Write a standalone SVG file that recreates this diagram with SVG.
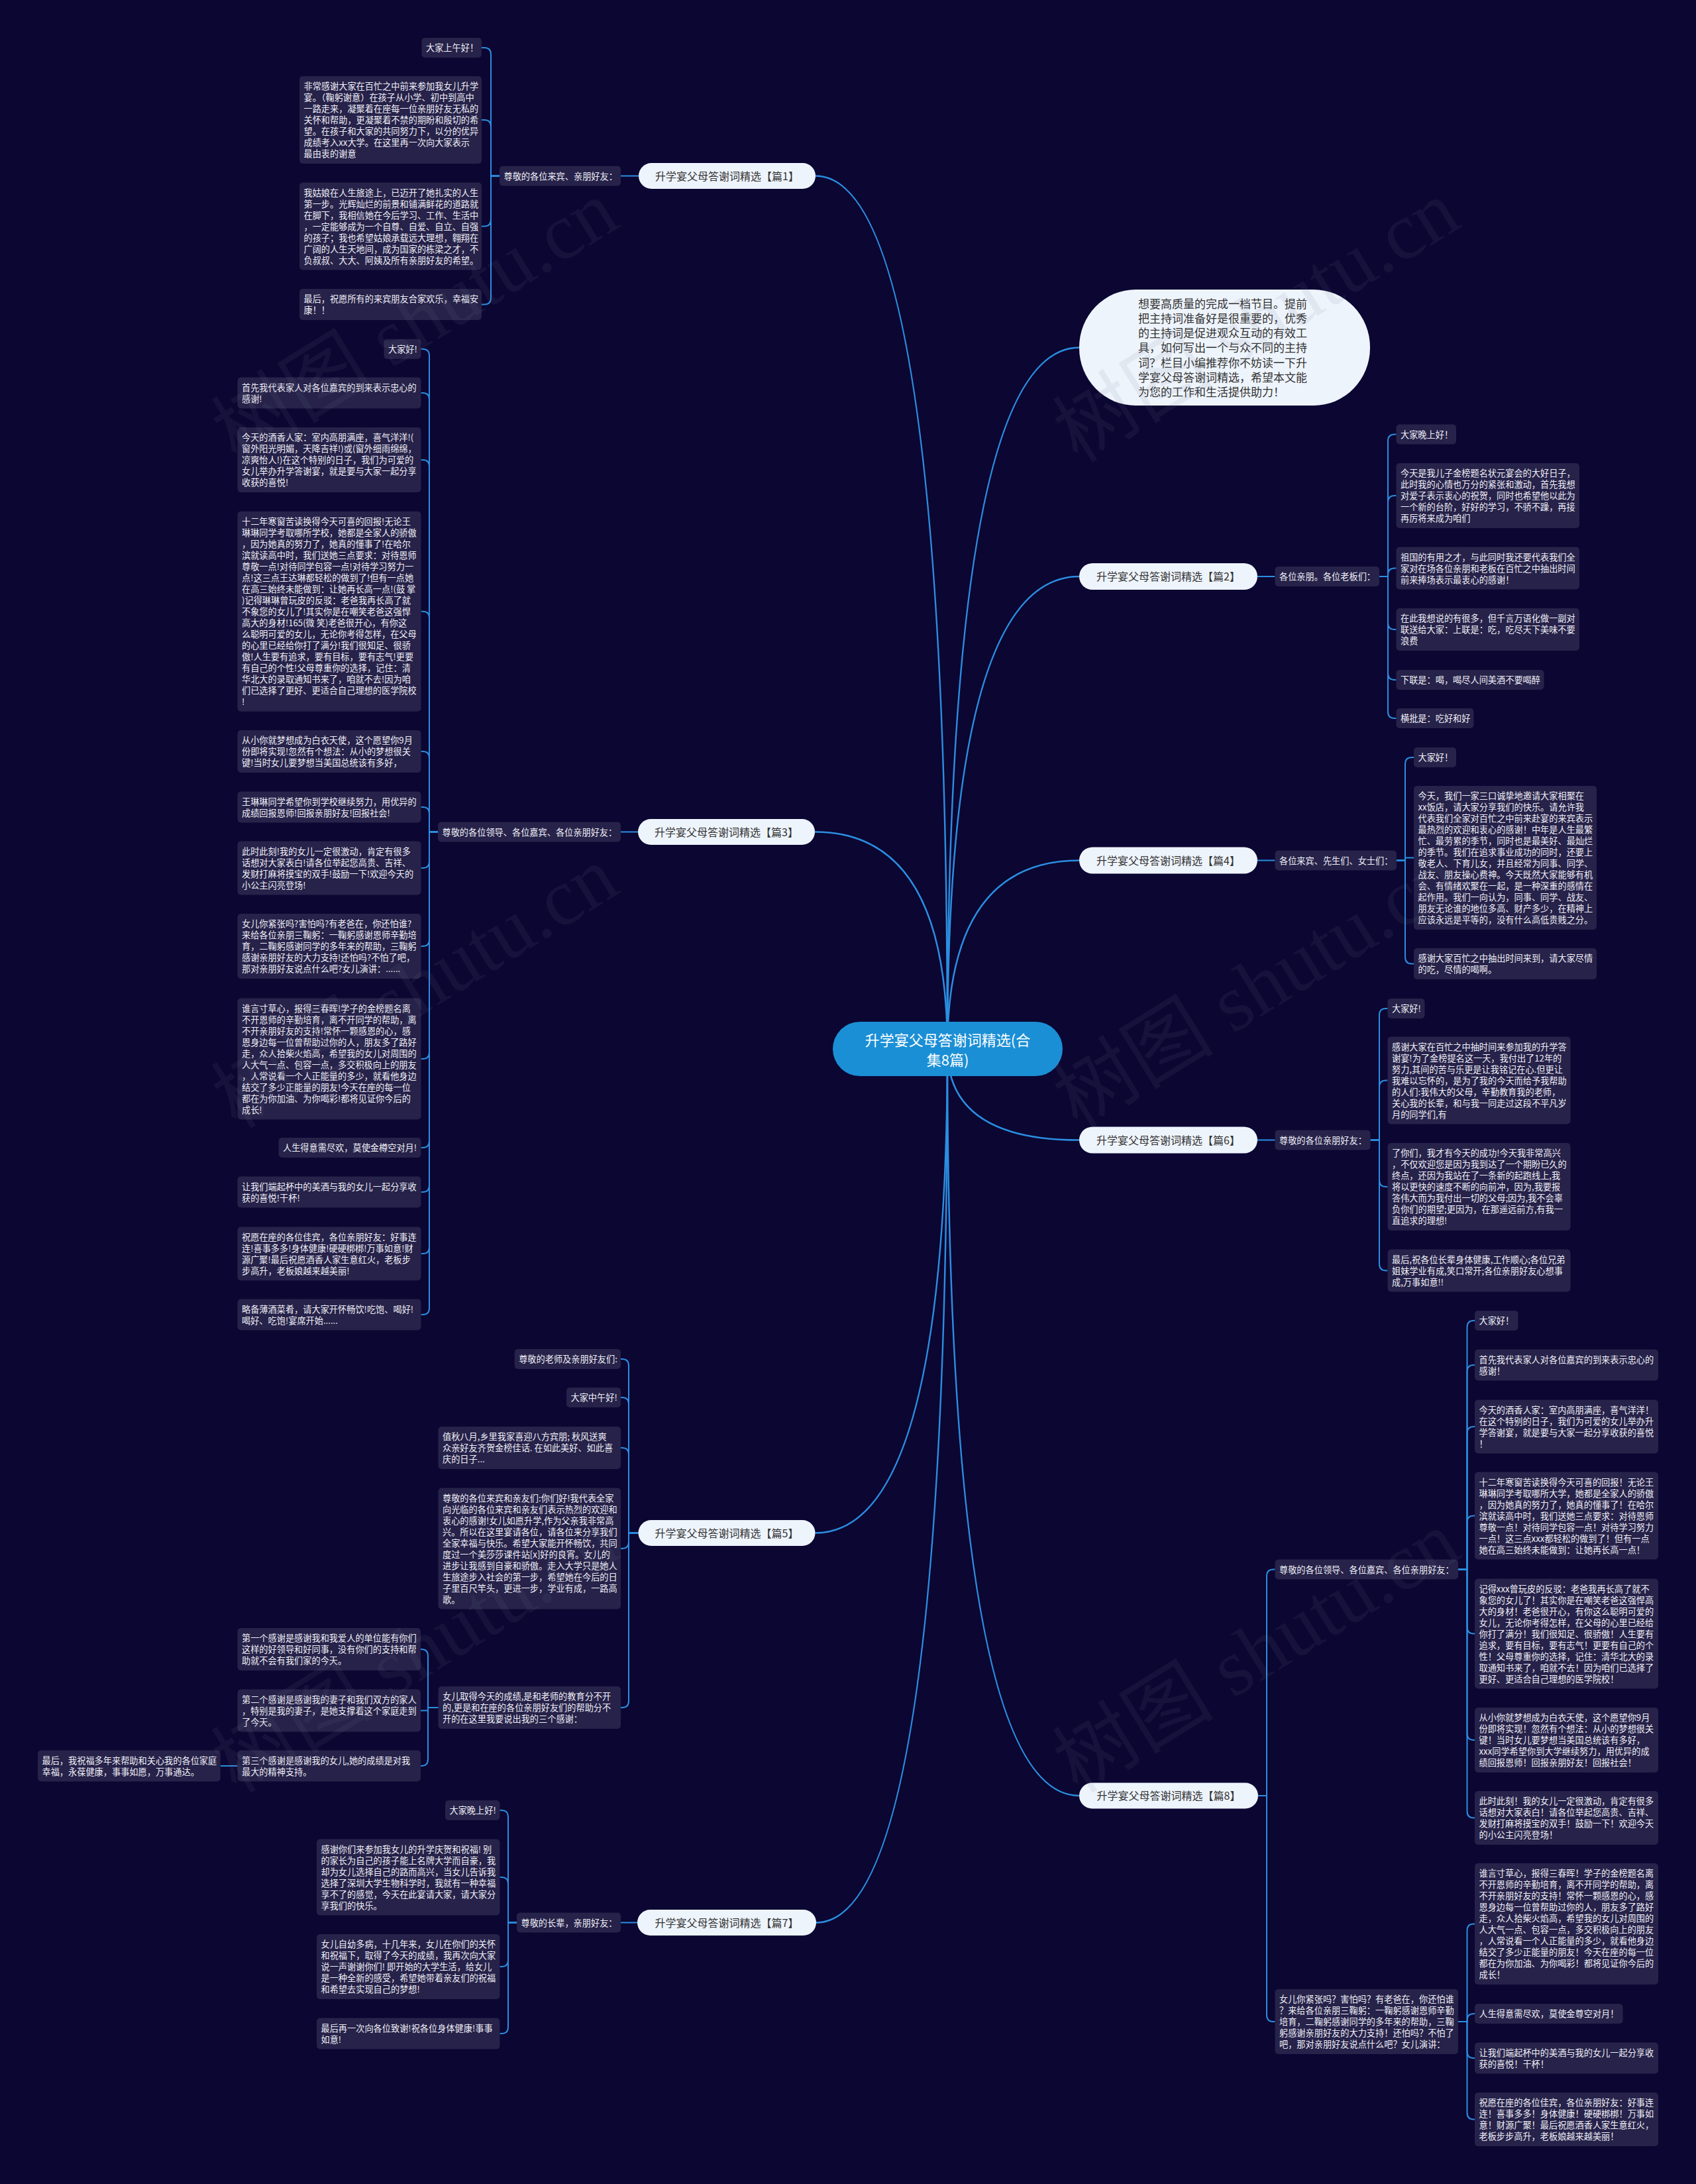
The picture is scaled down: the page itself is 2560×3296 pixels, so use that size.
<svg xmlns="http://www.w3.org/2000/svg" width="2560" height="3296" viewBox="0 0 2560 3296">
<style>
text{font-family:"Noto Sans CJK SC","Noto Sans",sans-serif}
.lf{fill:#262249}
.lt{fill:#f0eff7;font-size:13.2px}
.l1{fill:#eef4fc}
.l1t{fill:#333;font-size:16px;text-anchor:middle}
.c{fill:none;stroke:#2b8ee0;stroke-width:2}
.h{fill:none;stroke:#2b8ee0;stroke-width:2.5}
.wm{fill:#7a7a95;opacity:0.1;font-size:122px;font-family:"Liberation Serif","Noto Sans CJK SC",serif}
</style>
<rect x="0" y="0" width="2560" height="3296" fill="#0b0632"/>
<g id="connectors">
<path class="h" d="M1430 1583 Q1430 524.5 1629 524.5"/>
<path class="h" d="M1430 1583 Q1430 265.5 1231 265.5"/>
<path class="h" d="M1430 1583 Q1430 870 1629 870"/>
<path class="h" d="M1430 1583 Q1430 1255.5 1230 1255.5"/>
<path class="h" d="M1430 1583 Q1430 1298.5 1629 1298.5"/>
<path class="h" d="M1430 1583 Q1430 1720.5 1629 1720.5"/>
<path class="h" d="M1430 1583 Q1430 2313.5 1230.5 2313.5"/>
<path class="h" d="M1430 1583 Q1430 2710 1629 2710"/>
<path class="h" d="M1430 1583 Q1430 2901.5 1232 2901.5"/>
<path class="c" d="M964 265.5 H937"/>
<path class="c" d="M754 265.5 H741 V82 Q741 72 731 72 H727"/>
<path class="c" d="M754 265.5 H741 V191 Q741 181 731 181 H727"/>
<path class="c" d="M754 265.5 H741 V331.5 Q741 341.5 731 341.5 H727"/>
<path class="c" d="M754 265.5 H741 V449.5 Q741 459.5 731 459.5 H727"/>
<path class="c" d="M1898 870 H1924.5"/>
<path class="c" d="M2082 870 H2095 V665.5 Q2095 655.5 2105 655.5 H2107.5"/>
<path class="c" d="M2082 870 H2095 V758 Q2095 748 2105 748 H2107.5"/>
<path class="c" d="M2082 870 H2095 V867.5 Q2095 857.5 2105 857.5 H2107.5"/>
<path class="c" d="M2082 870 H2095 V940 Q2095 950 2105 950 H2107.5"/>
<path class="c" d="M2082 870 H2095 V1016 Q2095 1026 2105 1026 H2107.5"/>
<path class="c" d="M2082 870 H2095 V1074 Q2095 1084 2105 1084 H2107.5"/>
<path class="c" d="M1898 1298.5 H1924.5"/>
<path class="c" d="M2108 1298.5 H2121 V1153 Q2121 1143 2131 1143 H2134"/>
<path class="c" d="M2108 1298.5 H2121 V1294.6 H2134"/>
<path class="c" d="M2108 1298.5 H2121 V1444.5 Q2121 1454.5 2131 1454.5 H2134"/>
<path class="c" d="M1898 1720.5 H1924.5"/>
<path class="c" d="M2068.5 1720.5 H2082 V1532 Q2082 1522 2092 1522 H2094.5"/>
<path class="c" d="M2068.5 1720.5 H2082 V1640.5 Q2082 1630.5 2092 1630.5 H2094.5"/>
<path class="c" d="M2068.5 1720.5 H2082 V1781 Q2082 1791 2092 1791 H2094.5"/>
<path class="c" d="M2068.5 1720.5 H2082 V1907.5 Q2082 1917.5 2092 1917.5 H2094.5"/>
<path class="c" d="M963 1255.5 H937"/>
<path class="c" d="M661 1255.5 H648 V536.7 Q648 526.7 638 526.7 H635.5"/>
<path class="c" d="M661 1255.5 H648 V603 Q648 593 638 593 H635.5"/>
<path class="c" d="M661 1255.5 H648 V704 Q648 694 638 694 H635.5"/>
<path class="c" d="M661 1255.5 H648 V932.7 Q648 922.7 638 922.7 H635.5"/>
<path class="c" d="M661 1255.5 H648 V1144 Q648 1134 638 1134 H635.5"/>
<path class="c" d="M661 1255.5 H648 V1228 Q648 1218 638 1218 H635.5"/>
<path class="c" d="M661 1255.5 H648 V1300 Q648 1310 638 1310 H635.5"/>
<path class="c" d="M661 1255.5 H648 V1418 Q648 1428 638 1428 H635.5"/>
<path class="c" d="M661 1255.5 H648 V1588 Q648 1598 638 1598 H635.5"/>
<path class="c" d="M661 1255.5 H648 V1722 Q648 1732 638 1732 H635.5"/>
<path class="c" d="M661 1255.5 H648 V1789 Q648 1799 638 1799 H635.5"/>
<path class="c" d="M661 1255.5 H648 V1882 Q648 1892 638 1892 H635.5"/>
<path class="c" d="M661 1255.5 H648 V1974 Q648 1984 638 1984 H635.5"/>
<path class="c" d="M963.5 2313.5 H949 V2061 Q949 2051 939 2051 H937"/>
<path class="c" d="M963.5 2313.5 H949 V2119 Q949 2109 939 2109 H937"/>
<path class="c" d="M963.5 2313.5 H949 V2195 Q949 2185 939 2185 H937"/>
<path class="c" d="M963.5 2313.5 H949 V2327 Q949 2337 939 2337 H937"/>
<path class="c" d="M963.5 2313.5 H949 V2567 Q949 2577 939 2577 H937"/>
<path class="c" d="M661.5 2577 H646 V2499 Q646 2489 636 2489 H635"/>
<path class="c" d="M661.5 2577 H646 V2581.5 H635"/>
<path class="c" d="M661.5 2577 H646 V2655 Q646 2665 636 2665 H635"/>
<path class="c" d="M358.5 2665 H332.7"/>
<path class="c" d="M962 2901.5 H937"/>
<path class="c" d="M780 2901.5 H767 V2742 Q767 2732 757 2732 H754.4"/>
<path class="c" d="M780 2901.5 H767 V2843 Q767 2833 757 2833 H754.4"/>
<path class="c" d="M780 2901.5 H767 V2958 Q767 2968 757 2968 H754.4"/>
<path class="c" d="M780 2901.5 H767 V3059 Q767 3069 757 3069 H754.4"/>
<path class="c" d="M1899 2710 H1912 V2378.5 Q1912 2368.5 1922 2368.5 H1924.5"/>
<path class="c" d="M1899 2710 H1912 V3041 Q1912 3051 1922 3051 H1924.5"/>
<path class="c" d="M2201 2368.5 H2214.5 V2003 Q2214.5 1993 2224.5 1993 H2226"/>
<path class="c" d="M2201 2368.5 H2214.5 V2070 Q2214.5 2060 2224.5 2060 H2226"/>
<path class="c" d="M2201 2368.5 H2214.5 V2163 Q2214.5 2153 2224.5 2153 H2226"/>
<path class="c" d="M2201 2368.5 H2214.5 V2297.5 Q2214.5 2287.5 2224.5 2287.5 H2226"/>
<path class="c" d="M2201 2368.5 H2214.5 V2455.5 Q2214.5 2465.5 2224.5 2465.5 H2226"/>
<path class="c" d="M2201 2368.5 H2214.5 V2616 Q2214.5 2626 2224.5 2626 H2226"/>
<path class="c" d="M2201 2368.5 H2214.5 V2733.5 Q2214.5 2743.5 2224.5 2743.5 H2226"/>
<path class="c" d="M2201 3051 H2214.5 V2913.6 Q2214.5 2903.6 2224.5 2903.6 H2226"/>
<path class="c" d="M2201 3051 H2214.5 V3049 Q2214.5 3039 2224.5 3039 H2226"/>
<path class="c" d="M2201 3051 H2214.5 V3096 Q2214.5 3106 2224.5 3106 H2226"/>
<path class="c" d="M2201 3051 H2214.5 V3188.5 Q2214.5 3198.5 2224.5 3198.5 H2226"/>
</g>

<g id="center">
<rect x="1257" y="1542" width="347" height="82" rx="41" fill="#1b8fd5"/>
<text x="1430.5" y="1578" fill="#fff" font-size="22" text-anchor="middle">升学宴父母答谢词精选(合</text>
<text x="1430.5" y="1608" fill="#fff" font-size="22" text-anchor="middle">集8篇)</text>
</g>

<g id="intro">
<rect x="1629" y="437" width="439" height="175" rx="85" ry="87" fill="#eef4fc"/>
<text fill="#333" font-size="17"><tspan x="1718" y="464.5">想要高质量的完成一档节目。提前</tspan><tspan x="1718" dy="22.3">把主持词准备好是很重要的，优秀</tspan><tspan x="1718" dy="22.3">的主持词是促进观众互动的有效工</tspan><tspan x="1718" dy="22.3">具，如何写出一个与众不同的主持</tspan><tspan x="1718" dy="22.3">词？栏目小编推荐你不妨读一下升</tspan><tspan x="1718" dy="22.3">学宴父母答谢词精选，希望本文能</tspan><tspan x="1718" dy="22.3">为您的工作和生活提供助力！</tspan></text>
</g>

<g id="p1">
<rect class="l1" x="964" y="246" width="267" height="39" rx="19.5"/>
<text class="l1t" x="1097.5" y="271.5">升学宴父母答谢词精选【篇1】</text>
</g>
<g id="p1-sub">
<rect class="lf" x="754" y="250.5" width="183" height="30" rx="5"/>
<text class="lt" x="760.5" y="270.5">尊敬的各位来宾、亲朋好友：</text>
</g>
<g id="p1-a1"><rect class="lf" x="636.5" y="57" width="90.5" height="30" rx="5"/><text class="lt" x="643" y="77">大家上午好！</text></g>
<g id="p1-a2"><rect class="lf" x="452" y="115" width="275" height="132" rx="5"/><text class="lt"><tspan x="458.5" y="135">非常感谢大家在百忙之中前来参加我女儿升学</tspan><tspan x="458.5" dy="17">宴。（鞠躬谢意）在孩子从小学、初中到高中</tspan><tspan x="458.5" dy="17">一路走来，凝聚着在座每一位亲朋好友无私的</tspan><tspan x="458.5" dy="17">关怀和帮助，更凝聚着不禁的期盼和殷切的希</tspan><tspan x="458.5" dy="17">望。在孩子和大家的共同努力下，以分的优异</tspan><tspan x="458.5" dy="17">成绩考入xx大学。在这里再一次向大家表示</tspan><tspan x="458.5" dy="17">最由衷的谢意</tspan></text></g>
<g id="p1-a3"><rect class="lf" x="452" y="275.5" width="275" height="132" rx="5"/><text class="lt"><tspan x="458.5" y="295.5">我姑娘在人生旅途上，已迈开了她扎实的人生</tspan><tspan x="458.5" dy="17">第一步。光辉灿烂的前景和铺满鲜花的道路就</tspan><tspan x="458.5" dy="17">在脚下，我相信她在今后学习、工作、生活中</tspan><tspan x="458.5" dy="17">，一定能够成为一个自尊、自爱、自立、自强</tspan><tspan x="458.5" dy="17">的孩子；我也希望姑娘承载远大理想，翱翔在</tspan><tspan x="458.5" dy="17">广阔的人生天地间，成为国家的栋梁之才，不</tspan><tspan x="458.5" dy="17">负叔叔、大大、阿姨及所有亲朋好友的希望。</tspan></text></g>
<g id="p1-a4"><rect class="lf" x="452" y="436" width="275" height="47" rx="5"/><text class="lt"><tspan x="458.5" y="456">最后，祝愿所有的来宾朋友合家欢乐，幸福安</tspan><tspan x="458.5" dy="17">康！！</tspan></text></g>

<g id="p2">
<rect class="l1" x="1629" y="850" width="269" height="40" rx="20"/>
<text class="l1t" x="1763.5" y="876">升学宴父母答谢词精选【篇2】</text>
</g>
<g id="p2-sub"><rect class="lf" x="1924.5" y="855" width="157.5" height="30" rx="5"/><text class="lt" x="1931" y="875">各位亲朋。各位老板们：</text></g>
<g id="p2-b1"><rect class="lf" x="2107.5" y="640.5" width="90.5" height="30" rx="5"/><text class="lt" x="2114" y="660.5">大家晚上好！</text></g>
<g id="p2-b2"><rect class="lf" x="2107.5" y="699" width="276.5" height="98" rx="5"/><text class="lt"><tspan x="2114" y="719">今天是我儿子金榜题名状元宴会的大好日子，</tspan><tspan x="2114" dy="17">此时我的心情也万分的紧张和激动，首先我想</tspan><tspan x="2114" dy="17">对爱子表示衷心的祝贺，同时也希望他以此为</tspan><tspan x="2114" dy="17">一个新的台阶，好好的学习，不骄不躁，再接</tspan><tspan x="2114" dy="17">再厉将来成为咱们</tspan></text></g>
<g id="p2-b3"><rect class="lf" x="2107.5" y="825.5" width="276.5" height="64" rx="5"/><text class="lt"><tspan x="2114" y="845.5">祖国的有用之才，与此同时我还要代表我们全</tspan><tspan x="2114" dy="17">家对在场各位亲朋和老板在百忙之中抽出时间</tspan><tspan x="2114" dy="17">前来捧场表示最衷心的感谢！</tspan></text></g>
<g id="p2-b4"><rect class="lf" x="2107.5" y="918" width="276.5" height="64" rx="5"/><text class="lt"><tspan x="2114" y="938">在此我想说的有很多，但千言万语化做一副对</tspan><tspan x="2114" dy="17">联送给大家：上联是：吃，吃尽天下美味不要</tspan><tspan x="2114" dy="17">浪费</tspan></text></g>
<g id="p2-b5"><rect class="lf" x="2107.5" y="1011" width="223" height="30" rx="5"/><text class="lt" x="2114" y="1031">下联是：喝，喝尽人间美酒不要喝醉</text></g>
<g id="p2-b6"><rect class="lf" x="2107.5" y="1069" width="117" height="30" rx="5"/><text class="lt" x="2114" y="1089">横批是：吃好和好</text></g>

<g id="p3">
<rect class="l1" x="963" y="1236" width="267" height="39" rx="19.5"/>
<text class="l1t" x="1096.5" y="1261.5">升学宴父母答谢词精选【篇3】</text>
</g>
<g id="p3-sub"><rect class="lf" x="661" y="1240.5" width="276" height="30" rx="5"/><text class="lt" x="667.5" y="1260.5">尊敬的各位领导、各位嘉宾、各位亲朋好友：</text></g>
<g id="p3-c1"><rect class="lf" x="579.5" y="511.7" width="56" height="30" rx="5"/><text class="lt" x="586" y="531.7">大家好!</text></g>
<g id="p3-c2"><rect class="lf" x="358.5" y="569.5" width="277" height="47" rx="5"/><text class="lt"><tspan x="365" y="589.5">首先我代表家人对各位嘉宾的到来表示忠心的</tspan><tspan x="365" dy="17">感谢!</tspan></text></g>
<g id="p3-c3"><rect class="lf" x="358.5" y="645" width="277" height="98" rx="5"/><text class="lt"><tspan x="365" y="665">今天的酒香人家：室内高朋满座，喜气洋洋!(</tspan><tspan x="365" dy="17">窗外阳光明媚，天降吉祥!)或(窗外细雨绵绵，</tspan><tspan x="365" dy="17">凉爽怡人!)在这个特别的日子，我们为可爱的</tspan><tspan x="365" dy="17">女儿举办升学答谢宴，就是要与大家一起分享</tspan><tspan x="365" dy="17">收获的喜悦!</tspan></text></g>
<g id="p3-c4"><rect class="lf" x="358.5" y="771.7" width="277" height="302" rx="5"/><text class="lt"><tspan x="365" y="791.7">十二年寒窗苦读换得今天可喜的回报!无论王</tspan><tspan x="365" dy="17">琳琳同学考取哪所学校，她都是全家人的骄傲</tspan><tspan x="365" dy="17">，因为她真的努力了，她真的懂事了!在哈尔</tspan><tspan x="365" dy="17">滨就读高中时，我们送她三点要求：对待恩师</tspan><tspan x="365" dy="17">尊敬一点!对待同学包容一点!对待学习努力一</tspan><tspan x="365" dy="17">点!这三点王达琳都轻松的做到了!但有一点她</tspan><tspan x="365" dy="17">在高三始终未能做到：让她再长高一点!(鼓 掌</tspan><tspan x="365" dy="17">)记得琳琳曾玩皮的反驳：老爸我再长高了就</tspan><tspan x="365" dy="17">不象您的女儿了!其实你是在嘲笑老爸这强悍</tspan><tspan x="365" dy="17">高大的身材!165(微 笑)老爸很开心，有你这</tspan><tspan x="365" dy="17">么聪明可爱的女儿，无论你考得怎样，在父母</tspan><tspan x="365" dy="17">的心里已经给你打了满分!我们很知足、很骄</tspan><tspan x="365" dy="17">傲!人生要有追求，要有目标，要有志气!更要</tspan><tspan x="365" dy="17">有自己的个性!父母尊重你的选择，记住：清</tspan><tspan x="365" dy="17">华北大的录取通知书来了，咱就不去!因为咱</tspan><tspan x="365" dy="17">们已选择了更好、更适合自己理想的医学院校</tspan><tspan x="365" dy="17">!</tspan></text></g>
<g id="p3-c5"><rect class="lf" x="358.5" y="1102" width="277" height="64" rx="5"/><text class="lt"><tspan x="365" y="1122">从小你就梦想成为白衣天使，这个愿望你9月</tspan><tspan x="365" dy="17">份即将实现!忽然有个想法：从小的梦想很关</tspan><tspan x="365" dy="17">键!当时女儿要梦想当美国总统该有多好，</tspan></text></g>
<g id="p3-c6"><rect class="lf" x="358.5" y="1194.5" width="277" height="47" rx="5"/><text class="lt"><tspan x="365" y="1214.5">王琳琳同学希望你到学校继续努力，用优异的</tspan><tspan x="365" dy="17">成绩回报恩师!回报亲朋好友!回报社会!</tspan></text></g>
<g id="p3-c7"><rect class="lf" x="358.5" y="1269.5" width="277" height="81" rx="5"/><text class="lt"><tspan x="365" y="1289.5">此时此刻!我的女儿一定很激动，肯定有很多</tspan><tspan x="365" dy="17">话想对大家表白!请各位举起您高贵、吉祥、</tspan><tspan x="365" dy="17">发财打麻将摸宝的双手!鼓励一下!欢迎今天的</tspan><tspan x="365" dy="17">小公主闪亮登场!</tspan></text></g>
<g id="p3-c8"><rect class="lf" x="358.5" y="1379" width="277" height="98" rx="5"/><text class="lt"><tspan x="365" y="1399">女儿你紧张吗?害怕吗?有老爸在，你还怕谁?</tspan><tspan x="365" dy="17">来给各位亲朋三鞠躬：一鞠躬感谢恩师辛勤培</tspan><tspan x="365" dy="17">育，二鞠躬感谢同学的多年来的帮助，三鞠躬</tspan><tspan x="365" dy="17">感谢亲朋好友的大力支持!还怕吗?不怕了吧，</tspan><tspan x="365" dy="17">那对亲朋好友说点什么吧?女儿演讲：......</tspan></text></g>
<g id="p3-c9"><rect class="lf" x="358.5" y="1506.5" width="277" height="183" rx="5"/><text class="lt"><tspan x="365" y="1526.5">谁言寸草心，报得三春晖!学子的金榜题名离</tspan><tspan x="365" dy="17">不开恩师的辛勤培育，离不开同学的帮助，离</tspan><tspan x="365" dy="17">不开亲朋好友的支持!常怀一颗感恩的心，感</tspan><tspan x="365" dy="17">恩身边每一位曾帮助过你的人，朋友多了路好</tspan><tspan x="365" dy="17">走，众人拾柴火焰高，希望我的女儿对周围的</tspan><tspan x="365" dy="17">人大气一点、包容一点，多交积极向上的朋友</tspan><tspan x="365" dy="17">，人常说看一个人正能量的多少，就看他身边</tspan><tspan x="365" dy="17">结交了多少正能量的朋友!今天在座的每一位</tspan><tspan x="365" dy="17">都在为你加油、为你喝彩!都将见证你今后的</tspan><tspan x="365" dy="17">成长!</tspan></text></g>
<g id="p3-c10"><rect class="lf" x="420.5" y="1717" width="215" height="30" rx="5"/><text class="lt" x="427" y="1737">人生得意需尽欢，莫使金樽空对月!</text></g>
<g id="p3-c11"><rect class="lf" x="358.5" y="1775.5" width="277" height="47" rx="5"/><text class="lt"><tspan x="365" y="1795.5">让我们端起杯中的美酒与我的女儿一起分享收</tspan><tspan x="365" dy="17">获的喜悦!干杯!</tspan></text></g>
<g id="p3-c12"><rect class="lf" x="358.5" y="1851.5" width="277" height="81" rx="5"/><text class="lt"><tspan x="365" y="1871.5">祝愿在座的各位佳宾，各位亲朋好友：好事连</tspan><tspan x="365" dy="17">连!喜事多多!身体健康!硬硬梆梆!万事如意!财</tspan><tspan x="365" dy="17">源广聚!最后祝愿酒香人家生意红火，老板步</tspan><tspan x="365" dy="17">步高升，老板娘越来越美丽!</tspan></text></g>
<g id="p3-c13"><rect class="lf" x="358.5" y="1960.5" width="277" height="47" rx="5"/><text class="lt"><tspan x="365" y="1980.5">略备薄酒菜肴，请大家开怀畅饮!吃饱、喝好!</tspan><tspan x="365" dy="17">喝好、吃饱!宴席开始......</tspan></text></g>

<g id="p4">
<rect class="l1" x="1629" y="1278.5" width="269" height="40" rx="20"/>
<text class="l1t" x="1763.5" y="1304.5">升学宴父母答谢词精选【篇4】</text>
</g>
<g id="p4-sub"><rect class="lf" x="1924.5" y="1283.5" width="183.5" height="30" rx="5"/><text class="lt" x="1931" y="1303.5">各位来宾、先生们、女士们：</text></g>
<g id="p4-d1"><rect class="lf" x="2134" y="1128" width="64" height="30" rx="5"/><text class="lt" x="2140.5" y="1148">大家好！</text></g>
<g id="p4-d2"><rect class="lf" x="2134" y="1186" width="276" height="217" rx="5"/><text class="lt"><tspan x="2140.5" y="1206">今天，我们一家三口诚挚地邀请大家相聚在</tspan><tspan x="2140.5" dy="17">xx饭店，请大家分享我们的快乐。请允许我</tspan><tspan x="2140.5" dy="17">代表我们全家对百忙之中前来赴宴的来宾表示</tspan><tspan x="2140.5" dy="17">最热烈的欢迎和衷心的感谢！中年是人生最繁</tspan><tspan x="2140.5" dy="17">忙、最劳累的季节，同时也是最美好、最灿烂</tspan><tspan x="2140.5" dy="17">的季节。我们在追求事业成功的同时，还要上</tspan><tspan x="2140.5" dy="17">敬老人、下育儿女，并且经常为同事、同学、</tspan><tspan x="2140.5" dy="17">战友、朋友操心费神。今天既然大家能够有机</tspan><tspan x="2140.5" dy="17">会、有情绪欢聚在一起，是一种深重的感情在</tspan><tspan x="2140.5" dy="17">起作用。我们一向认为，同事、同学、战友、</tspan><tspan x="2140.5" dy="17">朋友无论谁的地位多高、财产多少，在精神上</tspan><tspan x="2140.5" dy="17">应该永远是平等的，没有什么高低贵贱之分。</tspan></text></g>
<g id="p4-d3"><rect class="lf" x="2134" y="1431" width="276" height="47" rx="5"/><text class="lt"><tspan x="2140.5" y="1451">感谢大家百忙之中抽出时间来到，请大家尽情</tspan><tspan x="2140.5" dy="17">的吃，尽情的喝啊。</tspan></text></g>

<g id="p6">
<rect class="l1" x="1629" y="1700.5" width="269" height="40" rx="20"/>
<text class="l1t" x="1763.5" y="1726.5">升学宴父母答谢词精选【篇6】</text>
</g>
<g id="p6-sub"><rect class="lf" x="1924.5" y="1705.5" width="144" height="30" rx="5"/><text class="lt" x="1931" y="1725.5">尊敬的各位亲朋好友：</text></g>
<g id="p6-e1"><rect class="lf" x="2094.5" y="1507" width="56" height="30" rx="5"/><text class="lt" x="2101" y="1527">大家好!</text></g>
<g id="p6-e2"><rect class="lf" x="2094.5" y="1564.5" width="276" height="132" rx="5"/><text class="lt"><tspan x="2101" y="1584.5">感谢大家在百忙之中抽时间来参加我的升学答</tspan><tspan x="2101" dy="17">谢宴!为了金榜提名这一天，我付出了12年的</tspan><tspan x="2101" dy="17">努力,其间的苦与乐更是让我铭记在心.但更让</tspan><tspan x="2101" dy="17">我难以忘怀的，是为了我的今天而给予我帮助</tspan><tspan x="2101" dy="17">的人们:我伟大的父母，辛勤教育我的老师，</tspan><tspan x="2101" dy="17">关心我的长辈，和与我一同走过这段不平凡岁</tspan><tspan x="2101" dy="17">月的同学们,有</tspan></text></g>
<g id="p6-e3"><rect class="lf" x="2094.5" y="1725" width="276" height="132" rx="5"/><text class="lt"><tspan x="2101" y="1745">了你们，我才有今天的成功!今天我非常高兴</tspan><tspan x="2101" dy="17">，不仅欢迎您是因为我到达了一个期盼已久的</tspan><tspan x="2101" dy="17">终点，还因为我站在了一条新的起跑线上,我</tspan><tspan x="2101" dy="17">将以更快的速度不断的向前冲，因为,我要报</tspan><tspan x="2101" dy="17">答伟大而为我付出一切的父母;因为,我不会辜</tspan><tspan x="2101" dy="17">负你们的期望;更因为，在那遥远前方,有我一</tspan><tspan x="2101" dy="17">直追求的理想!</tspan></text></g>
<g id="p6-e4"><rect class="lf" x="2094.5" y="1885.5" width="276" height="64" rx="5"/><text class="lt"><tspan x="2101" y="1905.5">最后,祝各位长辈身体健康,工作顺心;各位兄弟</tspan><tspan x="2101" dy="17">姐妹学业有成,笑口常开;各位亲朋好友心想事</tspan><tspan x="2101" dy="17">成,万事如意!!</tspan></text></g>

<g id="p5">
<rect class="l1" x="963.5" y="2294" width="267" height="39" rx="19.5"/>
<text class="l1t" x="1097" y="2319.5">升学宴父母答谢词精选【篇5】</text>
</g>
<g id="p5-f1"><rect class="lf" x="776.7" y="2036" width="160.3" height="30" rx="5"/><text class="lt" x="783.2" y="2056">尊敬的老师及亲朋好友们:</text></g>
<g id="p5-f2"><rect class="lf" x="855" y="2094" width="82" height="30" rx="5"/><text class="lt" x="861.5" y="2114">大家中午好!</text></g>
<g id="p5-f3"><rect class="lf" x="661.5" y="2153" width="275.5" height="64" rx="5"/><text class="lt"><tspan x="668" y="2173">值秋八月,乡里我家喜迎八方宾朋; 秋风送爽</tspan><tspan x="668" dy="17">众亲好友齐贺金榜佳话. 在如此美好、如此喜</tspan><tspan x="668" dy="17">庆的日子...</tspan></text></g>
<g id="p5-f4"><rect class="lf" x="661.5" y="2245.5" width="275.5" height="183" rx="5"/><text class="lt"><tspan x="668" y="2265.5">尊敬的各位来宾和亲友们:你们好!我代表全家</tspan><tspan x="668" dy="17">向光临的各位来宾和亲友们表示热烈的欢迎和</tspan><tspan x="668" dy="17">衷心的感谢!女儿如愿升学,作为父亲我非常高</tspan><tspan x="668" dy="17">兴。所以在这里宴请各位，请各位来分享我们</tspan><tspan x="668" dy="17">全家幸福与快乐。希望大家能开怀畅饮，共同</tspan><tspan x="668" dy="17">度过一个美莎莎课件站[x]好的良宵。女儿的</tspan><tspan x="668" dy="17">进步让我感到自豪和骄傲。走入大学只是她人</tspan><tspan x="668" dy="17">生旅途步入社会的第一步，希望她在今后的日</tspan><tspan x="668" dy="17">子里百尺竿头，更进一步，学业有成，一路高</tspan><tspan x="668" dy="17">歌。</tspan></text></g>
<g id="p5-f5"><rect class="lf" x="661.5" y="2545" width="275.5" height="64" rx="5"/><text class="lt"><tspan x="668" y="2565">女儿取得今天的成绩,是和老师的教育分不开</tspan><tspan x="668" dy="17">的,更是和在座的各位亲朋好友们的帮助分不</tspan><tspan x="668" dy="17">开的在这里我要说出我的三个感谢：</tspan></text></g>
<g id="p5-f5a"><rect class="lf" x="358.5" y="2457" width="276.5" height="64" rx="5"/><text class="lt"><tspan x="365" y="2477">第一个感谢是感谢我和我爱人的单位能有你们</tspan><tspan x="365" dy="17">这样的好领导和好同事，没有你们的支持和帮</tspan><tspan x="365" dy="17">助就不会有我们家的今天。</tspan></text></g>
<g id="p5-f5b"><rect class="lf" x="358.5" y="2549.5" width="276.5" height="64" rx="5"/><text class="lt"><tspan x="365" y="2569.5">第二个感谢是感谢我的妻子和我们双方的家人</tspan><tspan x="365" dy="17">，特别是我的妻子，是她支撑着这个家庭走到</tspan><tspan x="365" dy="17">了今天。</tspan></text></g>
<g id="p5-f5c"><rect class="lf" x="358.5" y="2641.5" width="276.5" height="47" rx="5"/><text class="lt"><tspan x="365" y="2661.5">第三个感谢是感谢我的女儿,她的成绩是对我</tspan><tspan x="365" dy="17">最大的精神支持。</tspan></text></g>
<g id="p5-f6"><rect class="lf" x="57" y="2641.5" width="275.7" height="47" rx="5"/><text class="lt"><tspan x="63.5" y="2661.5">最后，我祝福多年来帮助和关心我的各位家庭</tspan><tspan x="63.5" dy="17">幸福，永葆健康，事事如愿，万事通达。</tspan></text></g>

<g id="p7">
<rect class="l1" x="962" y="2882" width="270" height="39" rx="19.5"/>
<text class="l1t" x="1097" y="2907.5">升学宴父母答谢词精选【篇7】</text>
</g>
<g id="p7-sub"><rect class="lf" x="780" y="2886.5" width="157" height="30" rx="5"/><text class="lt" x="786.5" y="2906.5">尊敬的长辈，亲朋好友：</text></g>
<g id="p7-g1"><rect class="lf" x="672" y="2717" width="82.4" height="30" rx="5"/><text class="lt" x="678.5" y="2737">大家晚上好!</text></g>
<g id="p7-g2"><rect class="lf" x="478" y="2775.5" width="276.4" height="115" rx="5"/><text class="lt"><tspan x="484.5" y="2795.5">感谢你们来参加我女儿的升学庆贺和祝福! 别</tspan><tspan x="484.5" dy="17">的家长为自己的孩子能上名牌大学而自豪，我</tspan><tspan x="484.5" dy="17">却为女儿选择自己的路而高兴，当女儿告诉我</tspan><tspan x="484.5" dy="17">选择了深圳大学生物科学时，我就有一种幸福</tspan><tspan x="484.5" dy="17">享不了的感觉，今天在此宴请大家，请大家分</tspan><tspan x="484.5" dy="17">享我们的快乐。</tspan></text></g>
<g id="p7-g3"><rect class="lf" x="478" y="2919" width="276.4" height="98" rx="5"/><text class="lt"><tspan x="484.5" y="2939">女儿自幼多病，十几年来，女儿在你们的关怀</tspan><tspan x="484.5" dy="17">和祝福下，取得了今天的成绩，我再次向大家</tspan><tspan x="484.5" dy="17">说一声谢谢你们! 即开始的大学生活，给女儿</tspan><tspan x="484.5" dy="17">是一种全新的感受，希望她带着亲友们的祝福</tspan><tspan x="484.5" dy="17">和希望去实现自己的梦想!</tspan></text></g>
<g id="p7-g4"><rect class="lf" x="478" y="3045.5" width="276.4" height="47" rx="5"/><text class="lt"><tspan x="484.5" y="3065.5">最后再一次向各位致谢!祝各位身体健康!事事</tspan><tspan x="484.5" dy="17">如意!</tspan></text></g>

<g id="p8">
<rect class="l1" x="1629" y="2690.5" width="270" height="39" rx="19.5"/>
<text class="l1t" x="1764" y="2716">升学宴父母答谢词精选【篇8】</text>
</g>
<g id="p8-sub1"><rect class="lf" x="1924.5" y="2353.5" width="276.5" height="30" rx="5"/><text class="lt" x="1931" y="2373.5">尊敬的各位领导、各位嘉宾、各位亲朋好友：</text></g>
<g id="p8-sub2"><rect class="lf" x="1924.5" y="3002" width="276.5" height="98" rx="5"/><text class="lt"><tspan x="1931" y="3022">女儿你紧张吗？害怕吗？有老爸在，你还怕谁</tspan><tspan x="1931" dy="17">？来给各位亲朋三鞠躬：一鞠躬感谢恩师辛勤</tspan><tspan x="1931" dy="17">培育，二鞠躬感谢同学的多年来的帮助，三鞠</tspan><tspan x="1931" dy="17">躬感谢亲朋好友的大力支持！还怕吗？不怕了</tspan><tspan x="1931" dy="17">吧，那对亲朋好友说点什么吧？女儿演讲：</tspan></text></g>
<g id="p8-h1"><rect class="lf" x="2226" y="1978" width="65.5" height="30" rx="5"/><text class="lt" x="2232.5" y="1998">大家好！</text></g>
<g id="p8-h2"><rect class="lf" x="2226" y="2036.5" width="277" height="47" rx="5"/><text class="lt"><tspan x="2232.5" y="2056.5">首先我代表家人对各位嘉宾的到来表示忠心的</tspan><tspan x="2232.5" dy="17">感谢！</tspan></text></g>
<g id="p8-h3"><rect class="lf" x="2226" y="2112.5" width="277" height="81" rx="5"/><text class="lt"><tspan x="2232.5" y="2132.5">今天的酒香人家：室内高朋满座，喜气洋洋！</tspan><tspan x="2232.5" dy="17">在这个特别的日子，我们为可爱的女儿举办升</tspan><tspan x="2232.5" dy="17">学答谢宴，就是要与大家一起分享收获的喜悦</tspan><tspan x="2232.5" dy="17">！</tspan></text></g>
<g id="p8-h4"><rect class="lf" x="2226" y="2221.5" width="277" height="132" rx="5"/><text class="lt"><tspan x="2232.5" y="2241.5">十二年寒窗苦读换得今天可喜的回报！无论王</tspan><tspan x="2232.5" dy="17">琳琳同学考取哪所大学，她都是全家人的骄傲</tspan><tspan x="2232.5" dy="17">，因为她真的努力了，她真的懂事了！在哈尔</tspan><tspan x="2232.5" dy="17">滨就读高中时，我们送她三点要求：对待恩师</tspan><tspan x="2232.5" dy="17">尊敬一点！对待同学包容一点！对待学习努力</tspan><tspan x="2232.5" dy="17">一点！这三点xxx都轻松的做到了！但有一点</tspan><tspan x="2232.5" dy="17">她在高三始终未能做到：让她再长高一点！</tspan></text></g>
<g id="p8-h5"><rect class="lf" x="2226" y="2382.5" width="277" height="166" rx="5"/><text class="lt"><tspan x="2232.5" y="2402.5">记得xxx曾玩皮的反驳：老爸我再长高了就不</tspan><tspan x="2232.5" dy="17">象您的女儿了！其实你是在嘲笑老爸这强悍高</tspan><tspan x="2232.5" dy="17">大的身材！老爸很开心，有你这么聪明可爱的</tspan><tspan x="2232.5" dy="17">女儿，无论你考得怎样，在父母的心里已经给</tspan><tspan x="2232.5" dy="17">你打了满分！我们很知足、很骄傲！人生要有</tspan><tspan x="2232.5" dy="17">追求，要有目标，要有志气！更要有自己的个</tspan><tspan x="2232.5" dy="17">性！父母尊重你的选择，记住：清华北大的录</tspan><tspan x="2232.5" dy="17">取通知书来了，咱就不去！因为咱们已选择了</tspan><tspan x="2232.5" dy="17">更好、更适合自己理想的医学院校！</tspan></text></g>
<g id="p8-h6"><rect class="lf" x="2226" y="2577" width="277" height="98" rx="5"/><text class="lt"><tspan x="2232.5" y="2597">从小你就梦想成为白衣天使，这个愿望你9月</tspan><tspan x="2232.5" dy="17">份即将实现！忽然有个想法：从小的梦想很关</tspan><tspan x="2232.5" dy="17">键！当时女儿要梦想当美国总统该有多好，</tspan><tspan x="2232.5" dy="17">xxx同学希望你到大学继续努力，用优异的成</tspan><tspan x="2232.5" dy="17">绩回报恩师！回报亲朋好友！回报社会！</tspan></text></g>
<g id="p8-h7"><rect class="lf" x="2226" y="2703" width="277" height="81" rx="5"/><text class="lt"><tspan x="2232.5" y="2723">此时此刻！我的女儿一定很激动，肯定有很多</tspan><tspan x="2232.5" dy="17">话想对大家表白！请各位举起您高贵、吉祥、</tspan><tspan x="2232.5" dy="17">发财打麻将摸宝的双手！鼓励一下！欢迎今天</tspan><tspan x="2232.5" dy="17">的小公主闪亮登场！</tspan></text></g>
<g id="p8-i1"><rect class="lf" x="2226" y="2812" width="277" height="183" rx="5"/><text class="lt"><tspan x="2232.5" y="2832">谁言寸草心，报得三春晖！学子的金榜题名离</tspan><tspan x="2232.5" dy="17">不开恩师的辛勤培育，离不开同学的帮助，离</tspan><tspan x="2232.5" dy="17">不开亲朋好友的支持！常怀一颗感恩的心，感</tspan><tspan x="2232.5" dy="17">恩身边每一位曾帮助过你的人，朋友多了路好</tspan><tspan x="2232.5" dy="17">走，众人拾柴火焰高，希望我的女儿对周围的</tspan><tspan x="2232.5" dy="17">人大气一点、包容一点，多交积极向上的朋友</tspan><tspan x="2232.5" dy="17">，人常说看一个人正能量的多少，就看他身边</tspan><tspan x="2232.5" dy="17">结交了多少正能量的朋友！今天在座的每一位</tspan><tspan x="2232.5" dy="17">都在为你加油、为你喝彩！都将见证你今后的</tspan><tspan x="2232.5" dy="17">成长！</tspan></text></g>
<g id="p8-i2"><rect class="lf" x="2226" y="3024" width="223.6" height="30" rx="5"/><text class="lt" x="2232.5" y="3044">人生得意需尽欢，莫使金尊空对月！</text></g>
<g id="p8-i3"><rect class="lf" x="2226" y="3082.5" width="277" height="47" rx="5"/><text class="lt"><tspan x="2232.5" y="3102.5">让我们端起杯中的美酒与我的女儿一起分享收</tspan><tspan x="2232.5" dy="17">获的喜悦！干杯！</tspan></text></g>
<g id="p8-i4"><rect class="lf" x="2226" y="3158" width="277" height="81" rx="5"/><text class="lt"><tspan x="2232.5" y="3178">祝愿在座的各位佳宾，各位亲朋好友：好事连</tspan><tspan x="2232.5" dy="17">连！喜事多多！身体健康！硬硬梆梆！万事如</tspan><tspan x="2232.5" dy="17">意！财源广聚！最后祝愿酒香人家生意红火，</tspan><tspan x="2232.5" dy="17">老板步步高升，老板娘越来越美丽！</tspan></text></g>

<g id="watermarks">
<text class="wm" x="357" y="700" transform="rotate(-31.7 357 700)">树图 shutu.cn</text>
<text class="wm" x="1627" y="700" transform="rotate(-31.7 1627 700)">树图 shutu.cn</text>
<text class="wm" x="357" y="1705" transform="rotate(-31.7 357 1705)">树图 shutu.cn</text>
<text class="wm" x="1627" y="1705" transform="rotate(-31.7 1627 1705)">树图 shutu.cn</text>
<text class="wm" x="357" y="2708" transform="rotate(-31.7 357 2708)">树图 shutu.cn</text>
<text class="wm" x="1627" y="2708" transform="rotate(-31.7 1627 2708)">树图 shutu.cn</text>
</g>
</svg>
